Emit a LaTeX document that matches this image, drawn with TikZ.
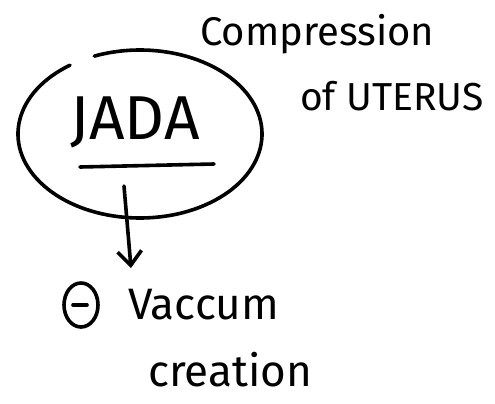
\documentclass[tikz,border=0pt]{standalone}
\usepackage{fontspec}
\setmainfont{Fira Sans}
\usetikzlibrary{arrows.meta,shapes.geometric}
\tikzset{
  ink/.style={line width=3.6pt, line cap=round, line join=round, black},
  word/.style={inner sep=0pt, anchor=west, font=\fontsize{44}{44}\selectfont},
}
\begin{document}
\begin{tikzpicture}[x=1pt,y=1pt]
  \useasboundingbox (0,0) rectangle (495,-404);
  % loop drawn round the key word, left open at the top
  \draw[ink] (140,-134) ++(125:122 and 84) arc[start angle=125, end angle=472, x radius=122, y radius=84];
  % key word with its underline
  \node[word, font=\fontsize{62}{62}\selectfont] (jada) at (70,-122) {JADA};
  \coordinate (ulL) at (80,-167);
  \coordinate (ulR) at (214,-164);
  \draw[ink] (ulL) -- (ulR);
  % note at the top right
  \node[word, font=\fontsize{40}{40}\selectfont] (comp) at (200,-34) {Compression};
  \node[word, font=\fontsize{39}{39}\selectfont] (uter) at (300,-96) {of UTERUS};
  % arrow down to the effect
  \coordinate (from) at (124,-186);
  \coordinate (to) at (131,-268);
  \draw[ink, -{Straight Barb[length=14pt, width=24pt, line width=3.6pt]}] (from) -- (to);
  % minus sign in a small circle
  \node[ink, draw, ellipse, minimum width=34pt, minimum height=44pt, inner sep=0pt] (neg) at (81,-305) {};
  \draw[ink] ([xshift=-8pt]neg.center) -- ([xshift=6pt]neg.center);
  \node[word] (vac) at (128,-305) {Vaccum};
  \node[word] (crea) at (148,-370) {creation};
\end{tikzpicture}
\end{document}
